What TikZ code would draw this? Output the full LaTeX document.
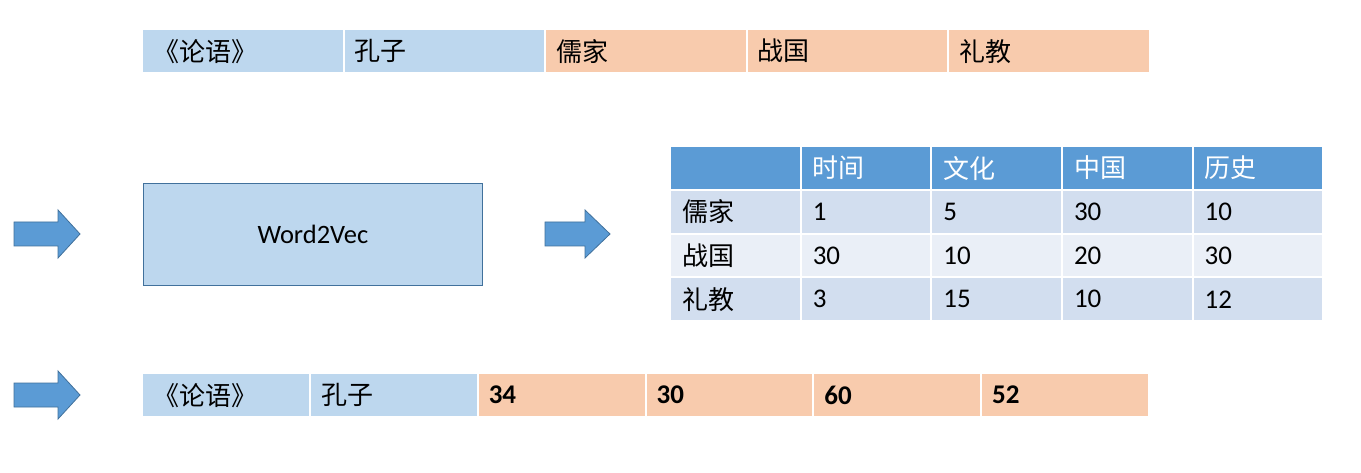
\documentclass[tikz,border=0pt]{standalone}
\usepackage{fontspec}
\setmainfont{Carlito}
\newfontfamily\cjk{Noto Sans CJK SC}
\definecolor{lblue}{HTML}{BDD7EE}
\definecolor{lorange}{HTML}{F8CBAD}
\definecolor{hblue}{HTML}{5B9BD5}
\definecolor{rowa}{HTML}{D2DEEF}
\definecolor{rowb}{HTML}{EAEFF7}
\definecolor{edgeblue}{HTML}{41719C}
\begin{document}
\begin{tikzpicture}[x=1pt,y=-1pt,
  cell/.style={rectangle, anchor=north west, inner ysep=0pt, inner xsep=10pt,
    minimum height=42pt, align=left, font=\fontsize{26}{30}\selectfont\cjk},
  tcell/.style={rectangle, anchor=north west, inner ysep=0pt, inner xsep=11pt,
    minimum height=41.75pt, text width=106.6pt, align=left, font=\fontsize{26}{30}\selectfont\cjk},
  num/.style={font=\fontsize{27}{30}\selectfont},
  bnum/.style={font=\fontsize{27}{30}\selectfont\bfseries},
  bigarrow/.style={fill=hblue, draw=edgeblue, line width=0.8pt}]
\useasboundingbox (0,0) rectangle (1361,473);
\fill[white] (0,0) rectangle (1361,473);
% top row
\node[cell, fill=lblue, text width=179.6pt] (t1) at (143,30) {《论语》};
\node[cell, fill=lblue, text width=179.6pt] (t2) at (344.5,30) {孔子};
\node[cell, fill=lorange, text width=179.6pt] (t3) at (546,30) {儒家};
\node[cell, fill=lorange, text width=179.6pt] (t4) at (747.5,30) {战国};
\node[cell, fill=lorange, text width=179.6pt] (t5) at (949,30) {礼教};
% word2vec box
\node[rectangle, anchor=north west, fill=lblue, draw=edgeblue, line width=0.8pt,
  minimum width=339pt, minimum height=102pt, inner sep=0pt,
  font=\fontsize{26.5}{30}\selectfont] (w2v) at (143,183) {Word2Vec};
% arrows
\draw[bigarrow] (14,222) -- (58,222) -- (58,210) -- (80,234) -- (58,258) -- (58,246) -- (14,246) -- cycle;
\draw[bigarrow] (545,222) -- (585,222) -- (585,210) -- (610,234) -- (585,258) -- (585,246) -- (545,246) -- cycle;
\draw[bigarrow] (14,383) -- (58,383) -- (58,371) -- (80,395) -- (58,419) -- (58,407) -- (14,407) -- cycle;
% table header
\node[tcell, fill=hblue] (h0) at (671,147) {};
\node[tcell, fill=hblue, text=white] (h1) at (801.6,147) {时间};
\node[tcell, fill=hblue, text=white] (h2) at (932.2,147) {文化};
\node[tcell, fill=hblue, text=white] (h3) at (1062.8,147) {中国};
\node[tcell, fill=hblue, text=white] (h4) at (1193.4,147) {历史};
% row 1
\node[tcell, fill=rowa] (r10) at (671,190.75) {儒家};
\node[tcell, fill=rowa, num] (r11) at (801.6,190.75) {1};
\node[tcell, fill=rowa, num] (r12) at (932.2,190.75) {5};
\node[tcell, fill=rowa, num] (r13) at (1062.8,190.75) {30};
\node[tcell, fill=rowa, num] (r14) at (1193.4,190.75) {10};
% row 2
\node[tcell, fill=rowb] (r20) at (671,234.5) {战国};
\node[tcell, fill=rowb, num] (r21) at (801.6,234.5) {30};
\node[tcell, fill=rowb, num] (r22) at (932.2,234.5) {10};
\node[tcell, fill=rowb, num] (r23) at (1062.8,234.5) {20};
\node[tcell, fill=rowb, num] (r24) at (1193.4,234.5) {30};
% row 3
\node[tcell, fill=rowa] (r30) at (671,278.25) {礼教};
\node[tcell, fill=rowa, num] (r31) at (801.6,278.25) {3};
\node[tcell, fill=rowa, num] (r32) at (932.2,278.25) {15};
\node[tcell, fill=rowa, num] (r33) at (1062.8,278.25) {10};
\node[tcell, fill=rowa, num] (r34) at (1193.4,278.25) {12};
% bottom row
\node[cell, fill=lblue, text width=145.8pt] (b1) at (143,374) {《论语》};
\node[cell, fill=lblue, text width=145.8pt] (b2) at (310.8,374) {孔子};
\node[cell, fill=lorange, text width=145.8pt, bnum] (b3) at (478.6,374) {34};
\node[cell, fill=lorange, text width=145.8pt, bnum] (b4) at (646.4,374) {30};
\node[cell, fill=lorange, text width=145.8pt, bnum] (b5) at (814.2,374) {60};
\node[cell, fill=lorange, text width=145.8pt, bnum] (b6) at (982,374) {52};
\end{tikzpicture}
\end{document}
